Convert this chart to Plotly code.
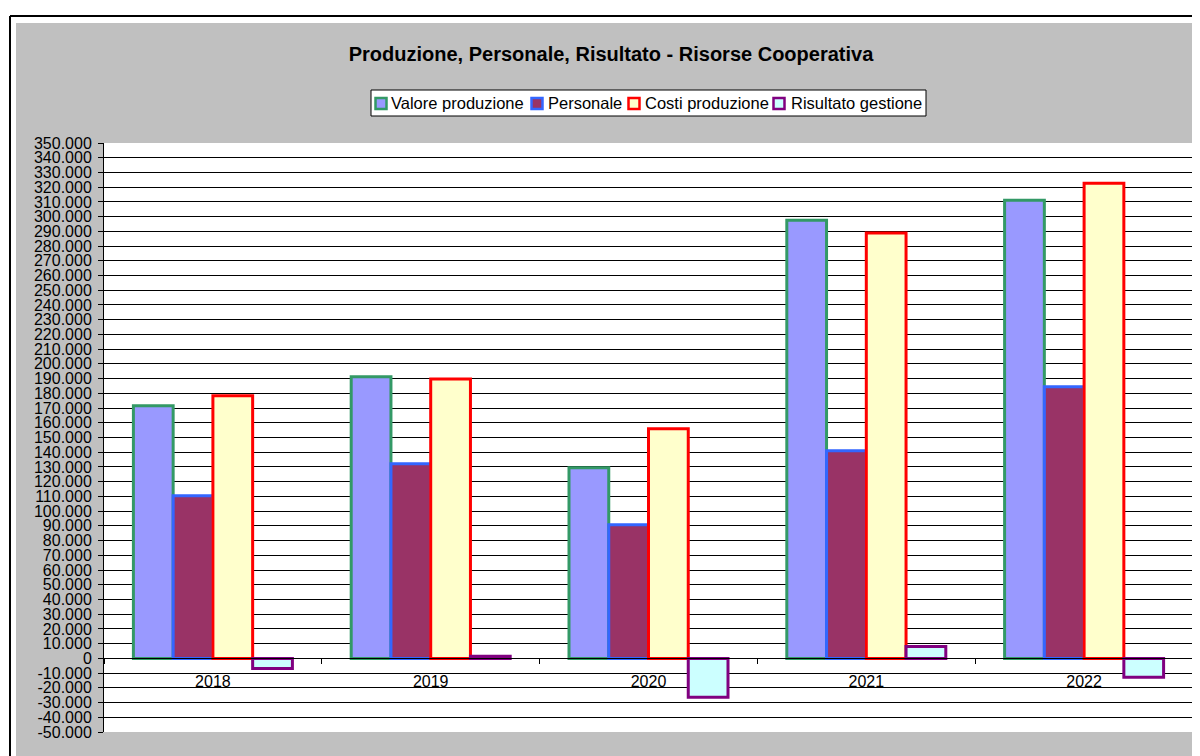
import plotly.graph_objects as go

years = ["2018", "2019", "2020", "2021", "2022"]
valore_produzione = [171500, 191200, 129500, 297600, 311200]
personale = [110500, 132200, 90800, 141000, 184400]
costi_produzione = [178300, 189800, 155900, 288800, 322700]
risultato_gestione = [-6800, 1400, -26400, 8100, -12900]

series_names = ["Valore produzione", "Personale", "Costi produzione", "Risultato gestione"]
series_values = [valore_produzione, personale, costi_produzione, risultato_gestione]
fill_colors = ["#9999FF", "#993366", "#FFFFCC", "#CCFFFF"]
line_colors = ["#339966", "#3366FF", "#FF0000", "#800080"]

y_ticks = list(range(-50000, 350001, 10000))
y_ticktext = [f"{v:,}".replace(",", ".") for v in y_ticks]

# page body has an 8px margin; reference pixel coords are converted accordingly
OFF = 8
W, H = 1200 - OFF, 756 - OFF
L, R, T, B = 104 - OFF, 7, 143 - OFF, 24
PW, PH = W - L - R, H - T - B


def px2x(px):
    return (px - OFF - L) / PW


def py2y(py):
    return (H - B - (py - OFF)) / PH


fig = go.Figure()
for name, vals, fill, line in zip(series_names, series_values, fill_colors, line_colors):
    fig.add_trace(go.Bar(
        name=name, x=years, y=vals, showlegend=False,
        marker=dict(color=fill, line=dict(color=line, width=3)),
    ))

font = "Arial, Liberation Sans, sans-serif"
shapes = [
    dict(type="rect", xref="paper", yref="paper", x0=px2x(0), x1=px2x(1200), y0=py2y(23), y1=py2y(0),
         fillcolor="white", line=dict(width=0), layer="above"),
    dict(type="rect", xref="paper", yref="paper", x0=px2x(0), x1=px2x(16), y0=py2y(756), y1=py2y(0),
         fillcolor="white", line=dict(width=0), layer="above"),
    dict(type="line", xref="paper", yref="paper", x0=px2x(10), x1=px2x(1200), y0=py2y(16), y1=py2y(16),
         line=dict(color="black", width=2), layer="above"),
    dict(type="line", xref="paper", yref="paper", x0=px2x(10), x1=px2x(10), y0=py2y(16), y1=py2y(756),
         line=dict(color="black", width=2), layer="above"),
    dict(type="rect", xref="paper", yref="paper", x0=px2x(1193), x1=px2x(1196), y0=py2y(732), y1=py2y(143),
         fillcolor="#A0A0A0", line=dict(width=0), layer="above"),
    # legend box
    dict(type="rect", xref="paper", yref="paper", x0=px2x(371), x1=px2x(926), y0=py2y(116), y1=py2y(90),
         fillcolor="white", line=dict(color="black", width=1), layer="above"),
]

annotations = []
legend_sym_x = [375.5, 531.5, 628.5, 773.5]
legend_text_x = [389, 545.5, 642.5, 788.5]
for name, fill, line, sx, tx in zip(series_names, fill_colors, line_colors, legend_sym_x, legend_text_x):
    shapes.append(dict(type="rect", xref="paper", yref="paper",
                       x0=px2x(sx), x1=px2x(sx + 11), y0=py2y(109), y1=py2y(98),
                       fillcolor=fill, line=dict(color=line, width=2.5), layer="above"))
    annotations.append(dict(text=name, xref="paper", yref="paper", x=px2x(tx), y=py2y(103.5),
                            xanchor="left", yanchor="middle", showarrow=False,
                            font=dict(size=16.5, family=font, color="black")))

fig.update_layout(
    width=W, height=H,
    margin=dict(l=L, r=R, t=T, b=B),
    paper_bgcolor="#C0C0C0",
    plot_bgcolor="white",
    font=dict(family=font, color="black", size=16),
    title=dict(text="<b>Produzione, Personale, Risultato - Risorse Cooperativa</b>",
               x=(611 - OFF) / W, xref="container", y=1 - (54 - OFF) / H, yref="container",
               xanchor="center", yanchor="middle", font=dict(size=20, family=font)),
    barmode="group", bargap=0.27, bargroupgap=0,
    shapes=shapes,
    annotations=annotations,
    showlegend=False,
    hovermode=False,
)
fig.update_yaxes(
    range=[-50000, 350000], tickvals=y_ticks, ticktext=y_ticktext,
    showgrid=True, gridcolor="black", gridwidth=1,
    zeroline=True, zerolinecolor="black", zerolinewidth=1,
    showline=True, linecolor="black", linewidth=1,
    ticks="outside", ticklen=5, tickcolor="black", ticklabelstandoff=3,
    tickfont=dict(size=16, family=font),
)
fig.update_xaxes(
    type="category", anchor="free", position=0.125,
    showgrid=False, showline=True, linecolor="black", linewidth=1,
    ticks="outside", ticklen=5, tickcolor="black", tickson="boundaries",
    ticklabelstandoff=8,
    tickfont=dict(size=16, family=font),
)

fig.write_html("out.html", config={"displayModeBar": False})
